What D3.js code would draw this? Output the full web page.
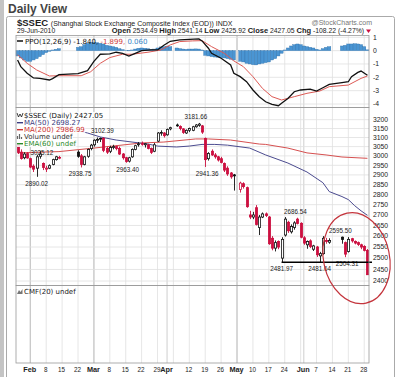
<!DOCTYPE html>
<html>
<head>
<meta charset="utf-8">
<script src="https://cdn.jsdelivr.net/npm/d3@7"></script>
<style>
body { margin: 0; background: #fff; }
svg { display: block; font-family: "DejaVu Sans", Verdana, sans-serif; }
.num { font-family: "Liberation Sans", Arial, sans-serif; }
</style>
</head>
<body>
<div id="viz"></div>
<script>

// weekday slots from Jan 26 to Jun 29 2010, holidays stay as empty slots (null)
var startDay = new Date(2010, 0, 26), endDay = new Date(2010, 5, 29);
var days = d3.timeDay.range(startDay, d3.timeDay.offset(endDay, 1))
    .filter(function(d){ var w = d.getDay(); return w > 0 && w < 6; });

var opens = [3062,3020,2990,3012,
  2985,2945,2935,2998,2960, 2930,2935,2955,2980,2988, null,null,null,null,null,
  3020,3000,2955,2998,3040, 3060,3085,3092,3095,3040, 3025,3045,3050,3040,3010,
  2990,2972,2995,3035,3060, 3068,3060,3060,3040,3025, 3080,3125,3125,3115,3148,
  null,3170,3162,3148,3125, 3140,3140,3160,3168,3165, 3095,2985,3025,3005,2995,
  2985,2960,2935,2910,2900, null,2825,2855,2835,2700, 2690,2735,2640,2690,2705,
  2690,2590,2545,2575,2500, 2605,2665,2620,2640,2680, 2660,2592,2560,2578,2540,
  2550,2510,2520,2580,2572, null,null,null,2595,2570, 2530,2588,2575,2570,2560,
  2552,2534.49];
var highs = [3070,3035,3020,3020,
  2990,2955,3005,3025.12,2965, 2948,2955,2985,3000,3000, null,null,null,null,null,
  3030,3010,3000,3040,3065, 3090,3100,3100,3102.39,3050, 3055,3060,3055,3050,3015,
  2995,2995,3040,3060,3075, 3078,3070,3065,3045,3070, 3130,3140,3130,3150,3160,
  null,3178,3168,3152,3145, 3155,3165,3175,3181.66,3170, 3100,3020,3035,3015,3000,
  2995,2965,2945,2915,2905, null,2865,2862,2840,2720, 2715,2748,2700,2712,2712,
  2695,2600,2580,2580,2595, 2690,2672,2655,2670,2686.54, 2665,2600,2580,2585,2560,
  2555,2528,2600,2592,2590, null,null,null,2598,2575, 2595.50,2592,2580,2575,2565,
  2558,2541.14];
var lows = [3010,2980,2982,2985,
  2935,2915,2890.02,2985,2925, 2915,2930,2950,2975,2982, null,null,null,null,null,
  2990,2938.75,2950,2990,3030, 3050,3070,3075,3020,3010, 3015,3035,3030,3005,2980,
  2963.40,2965,2990,3030,3050, 3055,3045,3035,3010,3020, 3075,3110,3100,3110,3140,
  null,3160,3140,3120,3120, 3130,3135,3155,3160,3120, 2941.36,2975,3000,2985,2970,
  2960,2915,2895,2880,2820, null,2810,2830,2735,2680, 2680,2650,2605,2685,2690,
  2560,2535,2530,2540,2481.97, 2598,2615,2612,2630,2655, 2590,2560,2542,2545,2532,
  2505,2481.64,2515,2565,2565, null,null,null,2565,2504.31, 2525,2570,2562,2555,2540,
  2530,2425.92];
var closes = [3019,2986,3010,2989,
  2941,2930,2995,3010,2939, 2935,2948,2980,2995,2992, null,null,null,null,null,
  2998,2955,2995,3035,3058, 3085,3090,3095,3030,3020, 3045,3050,3040,3010,2990,
  2970,2990,3035,3055,3065, 3062,3066,3040,3019,3060, 3125,3128,3110,3145,3155,
  null,3165,3150,3128,3140, 3150,3160,3170,3175,3130, 2980,3013,3005,2995,2978,
  2965,2925,2905,2890,2895, null,2858,2840,2740,2690, 2700,2655,2690,2705,2697,
  2565,2545,2570,2550,2585, 2680,2625,2645,2662,2660, 2595,2568,2575,2552,2555,
  2515,2520,2590,2575,2580, null,null,null,2585,2518, 2585,2578,2568,2562,2550,
  2535,2427.05];

// moving averages: [slot, value]
var ma50 = [[13,3162],[22,3125],[26,3103],[31,3086],[36,3075],[41,3064],[44,3053],[50,3048],
  [54,3053],[58,3062],[62,3062],[66,3058],[73,3042],[78,3005],[85,2962],[91,2915],[96,2860],
  [98,2815],[102,2790],[104,2775],[106,2745],[108,2720],[110,2698.27]];
var ma200 = [[0,3016],[13,3023],[24,3042],[39,3070],[46,3075],[56,3092],[60,3092],[67,3086],
  [76,3064],[78,3062],[85,3042],[91,3016],[97,3005],[102,2994],[110,2986.99]];

// PPO(12,26,9)
var ppoLine = [[0,-0.70],[1,-1.20],[3,-1.70],[5,-2.05],[7,-2.08],[10,-2.20],[11,-2.10],[13,-1.80],
  [19,-1.72],[22,-1.50],[24,-0.80],[26,-0.27],[29,-0.25],[31,-0.12],[33,-0.20],[35,-0.40],[37,-0.20],
  [39,0.00],[42,0.05],[44,0.05],[46,0.40],[48,0.70],[51,0.80],[54,0.85],[57,0.88],[58,0.73],[60,0.18],
  [61,-0.20],[64,-0.57],[67,-1.07],[68,-1.70],[70,-1.95],[72,-2.33],[74,-2.95],[76,-3.45],[78,-3.83],
  [80,-4.03],[82,-4.13],[83,-3.95],[85,-3.58],[87,-3.08],[89,-2.95],[92,-2.88],[94,-3.03],[96,-2.78],
  [98,-2.53],[102,-2.40],[104,-2.33],[105,-1.95],[107,-1.63],[108,-1.53],[110,-1.84]];
var ppoSignal = [[0,-0.30],[3,-0.95],[6,-1.45],[10,-1.90],[13,-1.88],[20,-1.88],[23,-1.58],[26,-0.95],
  [29,-0.52],[33,-0.27],[36,-0.27],[41,-0.12],[45,0.05],[48,0.43],[51,0.68],[55,0.73],[58,0.75],
  [61,0.30],[65,-0.20],[68,-0.77],[71,-1.20],[74,-1.95],[77,-2.83],[80,-3.45],[83,-3.70],[87,-3.45],
  [91,-3.20],[95,-3.03],[98,-2.70],[104,-2.58],[108,-2.08],[110,-1.90]];
var ppoHist = [-0.40,-0.55,-0.70,-0.80,
  -0.80,-0.70,-0.60,-0.45,-0.30, -0.15,-0.05,0.05,0.10,0.15, null,null,null,null,null,
  0.25,0.30,0.45,0.55,0.60, 0.62,0.60,0.55,0.50,0.40, 0.35,0.30,0.25,0.15,0.08,
  0.02,-0.02,0.05,0.12,0.18, 0.20,0.18,0.15,0.10,0.12, 0.20,0.28,0.30,0.32,0.30,
  null,0.20,0.15,0.12,0.10, 0.12,0.12,0.13,0.12,0.05, -0.35,-0.40,-0.45,-0.48,-0.50,
  -0.52,-0.55,-0.60,-0.65,-0.70, null,-0.80,-0.85,-0.95,-1.00, -1.05,-1.07,-1.00,-0.95,-0.90,
  -0.85,-0.70,-0.60,-0.40,-0.20, 0.05,0.20,0.35,0.45,0.50, 0.45,0.35,0.30,0.25,0.20,
  0.10,0.05,0.15,0.25,0.30, null,null,null,0.35,0.40, 0.50,0.50,0.52,0.50,0.45,
  0.30,0.06];

var priceTicks = d3.range(2400, 3201, 50);
var ppoTicks = [1, 0, -1, -2, -3, -4];
var dateLabels = [[4,"Feb",1],[9,"8"],[14,"15"],[19,"22"],[24,"Mar",1],[29,"8"],[34,"15"],[39,"22"],
  [44,"29"],[47,"Apr",1],[54,"12"],[59,"19"],[64,"26"],[69,"May",1],[74,"10"],[79,"17"],[84,"24"],
  [90,"Jun",1],[94,"7"],[99,"14"],[104,"21"],[109,"28"]];
var monthStarts = [4, 24, 47, 69, 90];

// price annotations: [slot, text, "h" above high / "l" below low, dx, dy]
var notes = [[7,"3025.12","h",2,7.5],[6,"2890.02","l",0,0],[20,"2938.75","l",-1,0],[27,"3102.39","h",-1,0],
  [34,"2963.40","l",2,0],[57,"3181.66","h",-3,0],[59,"2941.36","l",2,0],[88,"2686.54","h",-2,0],
  [83,"2481.97","l",0,0],[95,"2481.64","l",0,0],[104,"2595.50","h",-8,0],[103,"2504.31","l",2,0]];

var red = "#cc1040";
var plotL = 16, plotR = 369;
var ppoTop = 35.5, ppoBot = 107.5, priceTop = 107.5, priceBot = 285.5, cmfTop = 285.5, cmfBot = 363;

var svg = d3.select("#viz").append("svg")
    .attr("width", 400)
    .attr("height", 377);

var x = d3.scaleBand().domain(d3.range(days.length)).range([plotL, plotR]);
function cx(i){ return x(i) + x.bandwidth() / 2; }
var yPPO = d3.scaleLinear().domain([-4, 1]).range([104, 37.3]);
var yP = d3.scaleLog().domain([2400, 3200]).range([281, 119.7]);

// page frame
svg.append("rect").attr("x", 0).attr("y", 0).attr("width", 4).attr("height", 377).attr("fill", "#c4c4c4");
svg.append("text").attr("x", 8).attr("y", 12.5)
    .style("font-family", "Liberation Sans, Arial, sans-serif")
    .style("font-weight", "bold").style("font-size", "12px").attr("fill", "#444")
    .text("Daily View");
svg.append("rect").attr("x", 6.5).attr("y", 16.5).attr("width", 388).attr("height", 370)
    .attr("rx", 2).attr("fill", "#fff").attr("stroke", "#aaa");

// header
var head = svg.append("text").attr("x", 17).attr("y", 26).attr("class", "num").attr("fill", "#222");
head.append("tspan").style("font-weight", "bold").style("font-size", "9.5px").text("$SSEC ");
head.append("tspan").style("font-size", "7px").text("(Shanghai Stock Exchange Composite Index (EOD)) INDX");
svg.append("text").attr("x", 372).attr("y", 25).attr("text-anchor", "end").attr("class", "num")
    .style("font-size", "7px").attr("fill", "#777").text("@StockCharts.com");
svg.append("text").attr("x", 17).attr("y", 33).attr("class", "num")
    .style("font-size", "6.8px").attr("fill", "#222").text("29-Jun-2010");
var quote = svg.append("text").attr("x", 364).attr("y", 33).attr("text-anchor", "end")
    .attr("class", "num").style("font-size", "6.8px").attr("fill", "#222");
[["Open", " 2534.49  "], ["High", " 2541.14  "], ["Low", " 2425.92  "], ["Close", " 2427.05  "], ["Chg", " -108.22 (-4.27%)"]]
    .forEach(function(p){
        quote.append("tspan").style("font-weight", "bold").style("font-size", "7.5px").text(p[0]);
        quote.append("tspan").text(p[1]);
    });
svg.append("path").attr("d", "M366,29.5 L371,29.5 L368.5,33 Z").attr("fill", red);

// panels with grids
function panel(top, bot){
    var g = svg.append("g");
    g.append("rect").attr("x", plotL).attr("y", top).attr("width", plotR - plotL).attr("height", bot - top)
        .attr("fill", "#fff");
    var weeks = d3.range(4, days.length, 5);
    g.selectAll(".vg").data(weeks.concat(monthStarts)).enter().append("line")
        .attr("x1", function(d){ return cx(d); }).attr("x2", function(d){ return cx(d); })
        .attr("y1", top).attr("y2", bot)
        .attr("stroke", function(d){ return monthStarts.indexOf(d) >= 0 ? "#c2c2c2" : "#e0e0e0"; })
        .attr("stroke-width", 0.8);
    return g;
}

var gPPO = panel(ppoTop, ppoBot);
gPPO.selectAll(".hg").data(ppoTicks).enter().append("line")
    .attr("x1", plotL).attr("x2", plotR)
    .attr("y1", function(d){ return yPPO(d); }).attr("y2", function(d){ return yPPO(d); })
    .attr("stroke", "#e0e0e0").attr("stroke-width", 0.8);
svg.selectAll(".ppotick").data(ppoTicks).enter().append("text")
    .attr("class", "num").attr("x", 373).attr("y", function(d){ return yPPO(d) + 2.3; })
    .style("font-size", "6.8px").attr("fill", "#222").text(function(d){ return d; });

var gPrice = panel(priceTop, priceBot);
gPrice.selectAll(".hg").data(priceTicks).enter().append("line")
    .attr("x1", plotL).attr("x2", plotR)
    .attr("y1", function(d){ return yP(d); }).attr("y2", function(d){ return yP(d); })
    .attr("stroke", "#e0e0e0").attr("stroke-width", 0.8);
svg.selectAll(".ptick").data(priceTicks).enter().append("text")
    .attr("class", "num").attr("x", 373).attr("y", function(d){ return yP(d) + 2.3; })
    .style("font-size", "6.8px").attr("fill", "#222").text(function(d){ return d; });

var gCmf = panel(cmfTop, cmfBot);

// PPO histogram + lines
var bars = ppoHist.map(function(v, i){ return {i: i, v: v}; }).filter(function(d){ return d.v !== null; });
gPPO.selectAll(".bar").data(bars).enter().append("rect")
    .attr("x", function(d){ return x(d.i); })
    .attr("width", x.bandwidth())
    .attr("y", function(d){ return Math.min(yPPO(0), yPPO(d.v)); })
    .attr("height", function(d){ return Math.abs(yPPO(d.v) - yPPO(0)); })
    .attr("fill", "#4a95d3").attr("stroke", "#2d6ea8").attr("stroke-width", 0.35);

var ppoPath = d3.line().x(function(d){ return cx(d[0]); }).y(function(d){ return yPPO(d[1]); });
gPPO.append("path").attr("d", ppoPath(ppoSignal)).attr("fill", "none").attr("stroke", "#dd5a55").attr("stroke-width", 1);
gPPO.append("path").attr("d", ppoPath(ppoLine)).attr("fill", "none").attr("stroke", "#111").attr("stroke-width", 1.3);

var ppoLeg = svg.append("text").attr("x", 25).attr("y", 43.5).style("font-size", "7px");
ppoLeg.append("tspan").attr("fill", "#111").text("PPO(12,26,9) -1.840, ");
ppoLeg.append("tspan").attr("fill", "#d04040").text("-1.899, ");
ppoLeg.append("tspan").attr("fill", "#3a86c6").text("0.060");
svg.append("line").attr("x1", 17).attr("x2", 23).attr("y1", 41).attr("y2", 41).attr("stroke", "#111").attr("stroke-width", 1.5);

// moving averages
var maPath = d3.line().x(function(d){ return cx(d[0]); }).y(function(d){ return yP(d[1]); });
gPrice.append("path").attr("d", maPath(ma200)).attr("fill", "none").attr("stroke", "#d65050").attr("stroke-width", 1);
gPrice.append("path").attr("d", maPath(ma50)).attr("fill", "none").attr("stroke", "#4b4b8f").attr("stroke-width", 1);

// candles
var candles = closes.map(function(c, i){
    return {i: i, o: opens[i], h: highs[i], l: lows[i], c: c};
}).filter(function(d){ return d.c !== null; });
candles.forEach(function(d, k){
    var prev = k > 0 ? candles[k - 1].c : d.o;
    d.col = d.c >= prev ? "#111" : red;
    d.fill = d.c < d.o ? d.col : "#fff";
});
var cg = gPrice.selectAll(".candle").data(candles).enter().append("g");
cg.append("line")
    .attr("x1", function(d){ return Math.round(cx(d.i)) + 0.5; })
    .attr("x2", function(d){ return Math.round(cx(d.i)) + 0.5; })
    .attr("y1", function(d){ return yP(d.h); })
    .attr("y2", function(d){ return yP(d.l); })
    .attr("stroke", function(d){ return d.col; }).attr("stroke-width", 0.9);
cg.append("rect")
    .attr("x", function(d){ return Math.round(cx(d.i)) - 0.6; })
    .attr("width", 2.2)
    .attr("y", function(d){ return yP(Math.max(d.o, d.c)); })
    .attr("height", function(d){ return Math.max(0.8, Math.abs(yP(d.o) - yP(d.c))); })
    .attr("fill", function(d){ return d.fill; })
    .attr("stroke", function(d){ return d.col; }).attr("stroke-width", 0.8);

// annotations on highs and lows
gPrice.selectAll(".note").data(notes).enter().append("text")
    .attr("class", "num").attr("text-anchor", "middle")
    .attr("x", function(d){ return cx(d[0]) + d[3]; })
    .attr("y", function(d){ return (d[2] == "h" ? yP(highs[d[0]]) - 4 : yP(lows[d[0]]) + 9) + d[4]; })
    .style("font-size", "6.3px").attr("fill", "#222")
    .text(function(d){ return d[1]; });

// support line drawn on the chart
svg.append("line")
    .attr("x1", cx(83)).attr("x2", plotR + 3)
    .attr("y1", yP(lows[83])).attr("y2", yP(lows[83]))
    .attr("stroke", "#000").attr("stroke-width", 1.5);

// price legend
var legRows = [
    {t: "$SSEC (Daily) 2427.05", c: "#111"},
    {t: "MA(50) 2698.27", c: "#3c3c80"},
    {t: "MA(200) 2986.99", c: "#cc3333"},
    {t: "Volume undef", c: "#333"},
    {t: "EMA(60) undef", c: "#2a8a2a"}
];
legRows.forEach(function(r, k){
    var yy = 118 + k * 7;
    var bg = svg.append("rect").attr("fill", "#fff").attr("opacity", 0.85);
    var t = svg.append("text").attr("x", 24).attr("y", yy).style("font-size", "7px").attr("fill", r.c).text(r.t);
    var w = t.node().getComputedTextLength();
    bg.attr("x", 16.5).attr("y", yy - 6).attr("width", w + 8).attr("height", 7);
    if (k == 0) {
        svg.append("path").attr("d", "M17," + (yy - 5) + " l1.5,4 l1.5,-3 l1.5,3 l1.5,-4")
            .attr("fill", "none").attr("stroke", "#111").attr("stroke-width", 0.8);
    } else if (k == 3) {
        svg.append("path").attr("d", "M17.5," + (yy) + " v-3 M19.5," + yy + " v-5 M21.5," + yy + " v-2")
            .attr("stroke", "#666").attr("stroke-width", 1.2);
    } else {
        svg.append("line").attr("x1", 17).attr("x2", 23).attr("y1", yy - 2.3).attr("y2", yy - 2.3)
            .attr("stroke", r.c).attr("stroke-width", 1.4);
    }
});

// CMF legend
svg.append("path").attr("d", "M17,294 l2,-4 l1.5,2 l2,-3 v5 z").attr("fill", "#777");
svg.append("text").attr("x", 24).attr("y", 294).style("font-size", "7px").attr("fill", "#222").text("CMF(20) undef");

// date axis
svg.selectAll(".dlab").data(dateLabels).enter().append("text")
    .attr("class", "num").attr("text-anchor", "middle")
    .attr("x", function(d){ return cx(d[0]) - 0.5; })
    .attr("y", 371.5)
    .style("font-size", function(d){ return d[2] ? "7.3px" : "6.3px"; })
    .style("font-weight", function(d){ return d[2] ? "bold" : "normal"; })
    .attr("fill", "#222")
    .text(function(d){ return d[1]; });

// panel borders
[[ppoTop, ppoBot], [priceTop, priceBot], [cmfTop, cmfBot]].forEach(function(p){
    svg.append("rect").attr("x", plotL).attr("y", p[0]).attr("width", plotR - plotL).attr("height", p[1] - p[0])
        .attr("fill", "none").attr("stroke", "#999").attr("stroke-width", 0.8);
});

// hand drawn circle around the last days
svg.append("ellipse")
    .attr("cx", cx(105) + 5).attr("cy", yP(2500))
    .attr("rx", 33).attr("ry", 46)
    .attr("transform", "rotate(-12," + (cx(105) + 5) + "," + yP(2500) + ")")
    .attr("fill", "none").attr("stroke", "#c4343c").attr("stroke-width", 1.2);

</script>
</body>
</html>
